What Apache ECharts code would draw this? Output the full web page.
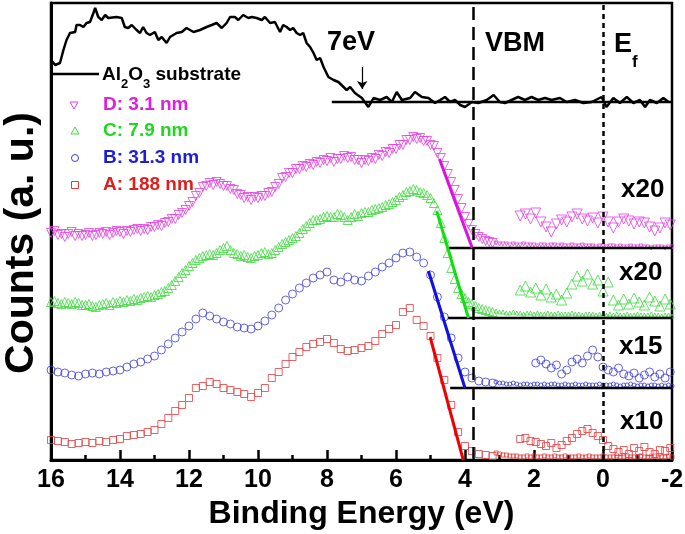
<!DOCTYPE html>
<html><head><meta charset="utf-8">
<script src="https://cdn.jsdelivr.net/npm/echarts@6/dist/echarts.min.js"></script>
<style>html,body{margin:0;padding:0;background:#fff}#c{width:685px;height:534px}</style>
</head><body><div id="c"></div>
<script>
// ---------- DATA ----------
// fine grid (0.1 eV) for the triangle series D and C
const energyFine = [16.0,15.9,15.8,15.7,15.6,15.5,15.4,15.3,15.2,15.1, 15.0,14.9,14.8,14.7,14.6,14.5,14.4,14.3,14.2,14.1, 14.0,13.9,13.8,13.7,13.6,13.5,13.4,13.3,13.2,13.1, 13.0,12.9,12.8,12.7,12.6,12.5,12.4,12.3,12.2,12.1, 12.0,11.9,11.8,11.7,11.6,11.5,11.4,11.3,11.2,11.1, 11.0,10.9,10.8,10.7,10.6,10.5,10.4,10.3,10.2,10.1, 10.0,9.9,9.8,9.7,9.6,9.5,9.4,9.3,9.2,9.1, 9.0,8.9,8.8,8.7,8.6,8.5,8.4,8.3,8.2,8.1, 8.0,7.9,7.8,7.7,7.6,7.5,7.4,7.3,7.2,7.1, 7.0,6.9,6.8,6.7,6.6,6.5,6.4,6.3,6.2,6.1, 6.0,5.9,5.8,5.7,5.6,5.5,5.4,5.3,5.2,5.1, 5.0,4.9,4.8,4.7,4.6,4.5,4.4,4.3,4.2,4.1, 4.0,3.9,3.8,3.7,3.6,3.5,3.4,3.3,3.2];
const countsD = [227,229,225,226,223,226,228,224,226,224, 225,227,224,225,227,226,228,225,227,229, 228,226,229,228,230,231,229,231,230,233, 233,235,234,237,238,241,241,245,247,250, 254,258,264,267,273,274,277,275,278,276, 274,274,271,270,266,265,262,263,260,263, 262,264,264,267,268,273,276,282,283,287, 287,291,291,294,293,296,295,298,297,300, 299,302,298,301,301,304,302,303,300,300, 297,300,299,302,301,305,304,308,307,311, 311,315,315,320,320,323,321,322,319,319, 315,314,307,302,294,286,278,270,261,252, 243,236,230,226,223,221,219,218,217];
const countsC = [158,159,157,156,158,157,156,158,157,155, 155,156,154,153,155,156,157,155,158,157, 159,158,160,159,161,160,162,163,164,163, 165,166,168,169,172,175,179,183,187,190, 194,197,200,202,204,205,206,205,207,210, 212,214,210,207,206,204,205,203,202,204, 205,207,208,206,207,210,213,216,218,220, 222,224,227,231,234,237,240,240,241,243, 244,243,243,246,245,243,240,243,246,244, 247,248,248,250,251,252,253,255,256,258, 260,263,265,268,269,271,270,268,267,265, 262,257,250,237,222,207,192,181,172,166, 162,158,156,154,152,151,150,149,148];
// 0.2 eV grid for circles (B) and squares (A)
const energyMain = [16.0,15.8,15.6,15.4,15.2,15.0,14.8,14.6,14.4,14.2,14.0,13.8,13.6,13.4,13.2,13.0,12.8,12.6,12.4,12.2,12.0,11.8,11.6,11.4,11.2,11.0,10.8,10.6,10.4,10.2,10.0,9.8,9.6,9.4,9.2,9.0,8.8,8.6,8.4,8.2,8.0,7.8,7.6,7.4,7.2,7.0,6.8,6.6,6.4,6.2,6.0,5.8,5.6,5.4,5.2,5.0,4.8,4.6,4.4,4.2,4.0,3.8,3.6,3.4,3.2];
const countsB = [90,88,87,85,84,86,87,86,88,89, 90,93,96,98,101,104,110,116,122,128, 134,141,147,144,141,138,136,133,132,131, 134,139,145,152,160,166,172,177,182,185, 188,180,178,183,180,179,184,188,193,197, 202,207,208,203,197,185,163,143,122,102, 88,82,79,78,77];
const countsA = [20,19,18,16,17,18,17,19,18,20, 21,24,25,26,28,30,36,42,49,55, 62,72,74,78,76,72,70,68,66,63, 67,72,82,88,96,103,108,113,116,118, 121,117,111,109,110,112,114,119,126,131, 135,148,152,140,134,124,102,80,55,28, 14,9,6,5,4];

const energyTail = [3.1,3.0,2.9,2.8,2.7,2.6,2.5,2.4,2.3,2.2,2.1,2.0,1.9,1.8,1.7,1.6,1.5,1.4,1.3,1.2,1.1,1.0,0.9,0.8,0.7,0.6,0.5,0.4,0.3,0.2,0.1,0.0,-0.1,-0.2,-0.3,-0.4,-0.5,-0.6,-0.7,-0.8,-0.9,-1.0,-1.1,-1.2,-1.3,-1.4,-1.5,-1.6,-1.7,-1.8,-1.9,-2.0];
const tailA = [7,6,5,5,4,4,4,3,3,4, 3,4,3,3,4,3,3,4,3,3, 4,3,3,3,4,3,3,4,3,3, 3,4,3,3,3,4,3,3,4,3, 3,3,4,3,3,3,4,3,3,3, 4,3];
const tailB = [78,77,77,76,76,77,76,75,76,76, 75,76,76,75,76,75,76,76,75,75, 76,75,75,76,75,75,76,75,75,75, 76,75,75,75,76,75,74,75,75,76, 75,74,75,75,74,75,75,74,75,74, 75,74];
const tailC = [149,148,148,147,147,148,147,147,146,147, 147,146,147,146,146,147,146,146,147,146, 146,146,147,146,146,145,146,146,146,145, 146,146,145,146,145,146,145,145,146,145, 145,146,145,145,145,146,145,145,144,145, 145,144];
const tailD = [217,216,216,216,215,216,215,215,216,215, 215,215,214,215,215,214,215,215,214,215, 214,214,215,214,214,215,214,214,214,213, 214,214,213,214,214,213,214,213,213,214, 213,213,214,213,213,212,213,213,213,212, 213,213];

const energyZoom = [2.4,2.25,2.1,1.95,1.8,1.65,1.5,1.35,1.2,1.05,0.9,0.75,0.6,0.45,0.3,0.15,0,-0.15,-0.3,-0.45,-0.6,-0.75,-0.9,-1.05,-1.2,-1.35,-1.5,-1.65,-1.8,-1.95];
const zoomD = [244,246,241,247,238,233,228,236,240,238,243,246,241,239,242,237,243,238,232,238,241,239,236,238,237,233,229,232,237,235];
const zoomC = [170,174,168,172,165,171,163,166,160,167,176,184,179,186,176,180,169,178,160,155,161,156,162,158,155,163,159,154,161,156];
const zoomB = [null,null,null,97,100,96,92,95,86,90,98,101,97,104,110,103,93,90,88,92,86,84,87,82,85,88,83,86,82,88];
const zoomA = [21,22,19,18,16,14,17,12,15,19,22,26,29,31,27,24,20,14,11,8,10,6,12,9,13,8,6,10,9,12];

const substrateE = [16.0,15.88,15.74,15.64,15.55,15.45,15.3,15.26,15.16,15.06,14.97,14.87,14.77,14.72,14.63,14.53,14.43,14.34,14.1,13.95,13.86,13.76,13.66,13.52,13.42,13.33,13.23,13.13,12.99,12.89,12.79,12.65,12.55,12.36,12.21,12.07,11.87,11.68,11.49,11.34,11.2,11.05,10.91,10.81,10.67,10.57,10.43,10.28,10.18,10.04,9.89,9.8,9.65,9.51,9.36,9.27,9.17,9.07,8.98,8.88,8.78,8.69,8.59,8.49,8.39,8.3,8.2,8.1,7.96,7.81,7.67,7.52,7.43,7.33,7.19,6.99,6.8,6.65,6.46,6.27,6.12,5.98,5.83,5.59,5.45,5.25,5.06,4.87,4.72,4.58,4.43,4.29,4.14,4.0,3.8,3.61,3.37,3.17,2.99,2.84,2.65,2.46,2.26,2.07,1.88,1.68,1.49,1.25,1.05,0.81,0.57,0.33,0.04,-0.1,-0.3,-0.49,-0.69,-0.88,-1.07,-1.22,-1.36,-1.56,-1.75,-1.9];
const substrateY = [400,395,397,410,420,427,428,435,435,433,437,438,447,452,443,440,445,442,443,442,433,432,435,430,427,433,427,425,428,420,423,417,423,427,428,432,428,430,433,435,437,432,437,443,443,440,445,442,443,442,440,443,437,438,428,435,433,430,432,427,425,427,417,413,407,400,402,393,383,380,378,373,370,373,367,362,353,362,360,363,358,368,360,362,368,363,362,357,360,363,358,360,355,353,358,357,360,365,358,357,360,363,360,363,360,362,360,362,358,360,357,358,363,353,362,357,363,357,360,353,360,357,362,358];

// linear fits (energy, counts) and baselines
const fitD = [[4.74,301],[3.79,212]];
const fitC = [[4.82,249],[3.90,142]];
const fitB = [[5.06,189],[4.00,72]];
const fitA = [[5.01,123],[4.05,0]];
const baseD = [[4.49,212],[-2,212]];
const baseC = [[4.49,142],[-2,142]];
const baseB = [[4.43,72],[-2,72]];
const baseSub = [[7.86,358],[-2,358]];
const vbmEnergy = 3.77;
const efEnergy = 0;
const arrow7eV = [[6.98,393],[6.98,371]];

const seriesNames = ['D: 3.1 nm','C: 7.9 nm','B: 31.3 nm','A: 188 nm'];
const substrateName = 'substrate';
const zoomLabels = ['x20','x20','x15','x10'];
const yTitle = 'Counts (a. u.)';
const xTitle = 'Binding Energy (eV)';

// ---------- CHART ----------
const FF = '"Liberation Sans", Arial, sans-serif';
const pairs = (xs, ys) => xs.map((x,i)=>[x, ys[i]]);
const colD = '#e23fe2', colC = '#3fd93f', colB = '#3d3dda', colA = '#e33d3d';
const txtD = '#e01ee0', txtC = '#20d820', txtB = '#1e1ed6', txtA = '#e01e1e';

function markers(data, col, symbol, size, rot){
  return {type:'scatter', data, symbol, symbolSize:size, symbolRotate:rot||0, silent:true, z:2,
    itemStyle:{color:'rgba(0,0,0,0)', borderColor:col, borderWidth:1}};
}
function seg(data, col, w){
  return {type:'line', data, symbol:'none', silent:true, z:4, lineStyle:{color:col, width:w}};
}

const series = [
  {type:'line', data:pairs(substrateE, substrateY), symbol:'none', silent:true, z:3,
   lineStyle:{color:'#000', width:2.5},
   markLine:{silent:true, symbol:'none', label:{show:false}, animation:false,
     data:[{xAxis:vbmEnergy, lineStyle:{color:'#000', width:2.5, type:[13,7]}},
           {xAxis:efEnergy, lineStyle:{color:'#000', width:2.5, type:[5,4]}}]}},
  {type:'line', data:[], symbol:'none',
   markLine:{silent:true, symbol:['none','arrow'], symbolSize:8, label:{show:false}, animation:false,
     lineStyle:{color:'#000', width:1.2, type:'solid'},
     data:[[{coord:arrow7eV[0]},{coord:arrow7eV[1]}]]}},
  markers(pairs(energyFine, countsD), colD, 'triangle', 9, 180),
  markers(pairs(energyFine, countsC), colC, 'triangle', 9, 0),
  markers(pairs(energyMain, countsB), colB, 'circle', 8, 0),
  markers(pairs(energyMain, countsA), colA, 'rect', 7, 0),
  markers(pairs(energyTail, tailD), colD, 'triangle', 4, 180),
  markers(pairs(energyTail, tailC), colC, 'triangle', 4, 0),
  markers(pairs(energyTail, tailB), colB, 'circle', 4, 0),
  markers(pairs(energyTail, tailA), colA, 'rect', 4, 0),
  markers(pairs(energyZoom, zoomD), colD, 'triangle', 10, 180),
  markers(pairs(energyZoom, zoomC), colC, 'triangle', 10, 0),
  markers(pairs(energyZoom, zoomB).filter(p=>p[1]!==null), colB, 'circle', 8, 0),
  markers(pairs(energyZoom, zoomA), colA, 'rect', 7, 0),
  seg(baseSub, '#000', 2.5),
  seg(baseD, '#000', 2.5),
  seg(baseC, '#000', 2.5),
  seg(baseB, '#000', 2.5),
  seg(fitD, '#e010e0', 3),
  seg(fitC, '#10e010', 3),
  seg(fitB, '#1010e0', 3),
  seg(fitA, '#f00000', 3)
];

const bold = s => 'bold ' + s + 'px ' + FF;
function txt(x, y, text, size, color){
  return {type:'text', x, y, silent:true, z:100,
    style:{text, font:bold(size), fill:color||'#000', align:'left', verticalAlign:'middle',
           textAlign:'left', textVerticalAlign:'middle'}};
}
const graphic = [
  {type:'text', x:22, y:243, rotation:Math.PI/2, silent:true, style:{
     text:yTitle, font:bold(41), fill:'#000', align:'center', verticalAlign:'middle',
     textAlign:'center', textVerticalAlign:'middle'}},
  {type:'line', silent:true, shape:{x1:51,y1:74,x2:99,y2:74}, style:{stroke:'#000', lineWidth:2.5}},
  {type:'text', x:102, y:78, silent:true, style:{
     text:'{n|Al}{s|2}{n|O}{s|3}{n| ' + substrateName + '}', fill:'#000', align:'left', verticalAlign:'middle',
     textAlign:'left', textVerticalAlign:'middle',
     rich:{n:{font:bold(19), fill:'#000', lineHeight:26, verticalAlign:'top'},
           s:{font:bold(13), fill:'#000', lineHeight:12, verticalAlign:'bottom'}}}},
  {type:'polygon', silent:true, shape:{points:[[70,102],[78,102],[74,109]]}, style:{fill:'none', stroke:colD, lineWidth:1}},
  {type:'polygon', silent:true, shape:{points:[[71,134],[79,134],[75,127]]}, style:{fill:'none', stroke:colC, lineWidth:1}},
  {type:'circle', silent:true, shape:{cx:75, cy:158, r:3.5}, style:{fill:'none', stroke:colB, lineWidth:1}},
  {type:'rect', silent:true, shape:{x:71.5, y:181.5, width:7, height:7}, style:{fill:'none', stroke:colA, lineWidth:1}},
  txt(103, 105, seriesNames[0], 19, txtD),
  txt(103, 131, seriesNames[1], 19, txtC),
  txt(103, 158, seriesNames[2], 19, txtB),
  txt(103, 185, seriesNames[3], 19, txtA),
  txt(327, 43, '7eV', 27),
  txt(485, 44, 'VBM', 27),
  {type:'text', x:614, y:51, silent:true, style:{
     text:'{e|E}{f|f}', fill:'#000', align:'left', verticalAlign:'middle', textAlign:'left', textVerticalAlign:'middle',
     rich:{e:{font:bold(27), fill:'#000', lineHeight:40, verticalAlign:'top'},
           f:{font:bold(17), fill:'#000', lineHeight:14, verticalAlign:'bottom'}}}},
  txt(621, 190, zoomLabels[0], 26),
  txt(619, 273, zoomLabels[1], 26),
  txt(619, 347, zoomLabels[2], 26),
  txt(620, 422, zoomLabels[3], 26)
];

const chart = echarts.init(document.getElementById('c'));
chart.setOption({
  animation:false,
  backgroundColor:'#fff',
  grid:{left:51, right:13, top:3, bottom:74, containLabel:false, outerBoundsMode:'none',
        show:true, borderColor:'#000', borderWidth:2.5, backgroundColor:'transparent'},
  xAxis:{type:'value', inverse:true, min:-2, max:16, interval:2,
    name:xTitle, nameLocation:'middle', nameGap:38,
    nameTextStyle:{fontFamily:FF, fontWeight:'bold', fontSize:32, color:'#000'},
    axisLine:{onZero:false, lineStyle:{color:'#000', width:3}},
    axisTick:{inside:true, length:10, lineStyle:{color:'#000', width:2.5}},
    minorTick:{show:true, splitNumber:2, length:5, lineStyle:{color:'#000', width:2.5}},
    axisLabel:{fontFamily:FF, fontWeight:'bold', fontSize:25, color:'#000', margin:8},
    splitLine:{show:false}},
  yAxis:{type:'value', min:0, max:457,
    axisLine:{show:true, onZero:false, lineStyle:{color:'#000', width:3}},
    axisTick:{show:false}, axisLabel:{show:false}, splitLine:{show:false}},
  series,
  graphic
});
</script></body></html>
